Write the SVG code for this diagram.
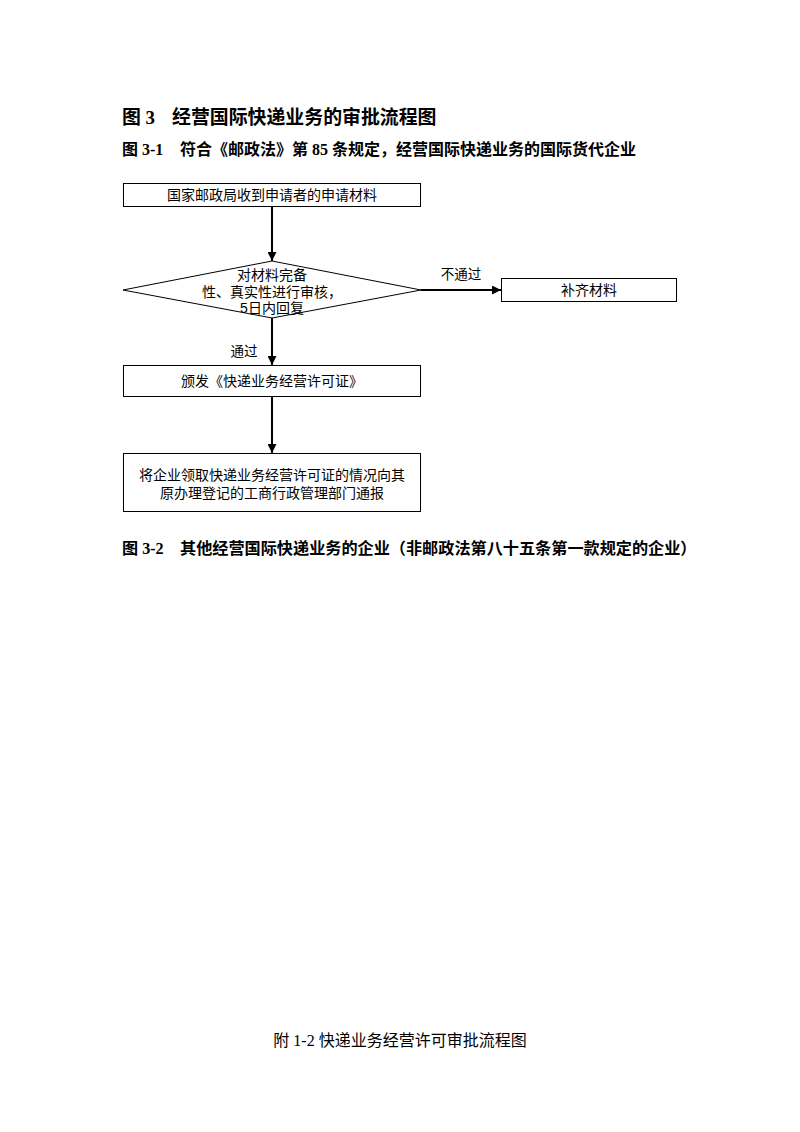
<svg xmlns="http://www.w3.org/2000/svg" width="800" height="1132" viewBox="0 0 800 1132">
<style>
.hd{font-family:"Liberation Serif","Noto Sans CJK SC",serif;font-weight:bold;fill:#000}
.ft{font-family:"Liberation Serif","Noto Sans CJK SC",serif;font-size:16px;fill:#000}
.nt{font-family:"Liberation Sans","Noto Sans CJK SC",sans-serif;font-size:14px;fill:#000;text-anchor:middle}
.lb{font-family:"Liberation Sans","Noto Sans CJK SC",sans-serif;font-size:13.5px;fill:#000;text-anchor:middle}
.box{fill:#fff;stroke:#000;stroke-width:1}
.ln{stroke:#000;stroke-width:2;fill:none}
</style>
<defs>
<marker id="ah" viewBox="0 0 10 10" refX="10" refY="5" markerWidth="4.5" markerHeight="4.5" orient="auto" markerUnits="strokeWidth">
<path d="M0,0 L10,5 L0,10 z" fill="#000"/>
</marker>
</defs>
<rect width="800" height="1132" fill="#fff"/>
<g id="titles">
<text class="hd" x="122" y="124" font-size="18.9">图 3</text>
<text class="hd" x="172" y="124" font-size="18.9">经营国际快递业务的审批流程图</text>
<text class="hd" x="122" y="155" font-size="16">图 3-1</text>
<text class="hd" x="180" y="155" font-size="16">符合《邮政法》第 85 条规定，经营国际快递业务的国际货代企业</text>
<text class="hd" x="122" y="554" font-size="16.15">图 3-2</text>
<text class="hd" x="180" y="554" font-size="16.15">其他经营国际快递业务的企业（非邮政法第八十五条第一款规定的企业）</text>
<text class="ft" x="400" y="1046" text-anchor="middle">附 1-2 快递业务经营许可审批流程图</text>
</g>
<g id="connectors">
<line class="ln" x1="272" y1="207" x2="272" y2="261" marker-end="url(#ah)"/>
<line class="ln" x1="421" y1="290" x2="501" y2="290" marker-end="url(#ah)"/>
<line class="ln" x1="272" y1="318" x2="272" y2="365" marker-end="url(#ah)"/>
<line class="ln" x1="272" y1="396" x2="272" y2="453" marker-end="url(#ah)"/>
<text class="lb" x="461" y="279">不通过</text>
<text class="lb" x="244" y="356">通过</text>
</g>
<g id="n1">
<rect class="box" x="123.5" y="183.5" width="297" height="23"/>
<text class="nt" x="272" y="200">国家邮政局收到申请者的申请材料</text>
</g>
<g id="n2">
<polygon class="box" points="272,261 421,290 272,318 123,290"/>
<text class="nt" x="272" y="280">对材料完备</text>
<text class="nt" x="272" y="297">性、真实性进行审核，</text>
<text class="nt" x="272" y="313">5日内回复</text>
</g>
<g id="n3">
<rect class="box" x="501.5" y="278.5" width="175" height="23"/>
<text class="nt" x="589" y="295">补齐材料</text>
</g>
<g id="n4">
<rect class="box" x="123.5" y="365.5" width="297" height="31"/>
<text class="nt" x="272" y="386">颁发《快递业务经营许可证》</text>
</g>
<g id="n5">
<rect class="box" x="123.5" y="453.5" width="297" height="58"/>
<text class="nt" x="272" y="480">将企业领取快递业务经营许可证的情况向其</text>
<text class="nt" x="272" y="498">原办理登记的工商行政管理部门通报</text>
</g>
</svg>
